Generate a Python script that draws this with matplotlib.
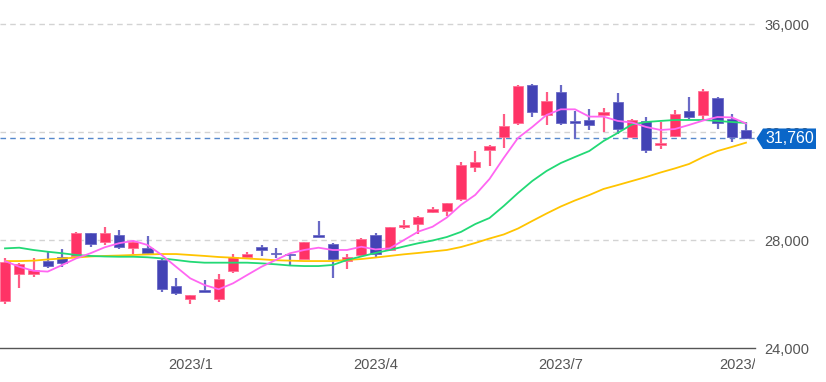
import matplotlib
matplotlib.use("Agg")
import matplotlib.pyplot as plt
import numpy as np
import pandas as pd
from matplotlib.patches import Polygon
from matplotlib.transforms import Bbox, TransformedBbox

plt.rcParams['font.family'] = ['Liberation Sans', 'DejaVu Sans']

# ---- data (weekly candles, Nikkei-style) ----
week_start = "2022-10-03"
n_weeks = 53

opens = [25740, 26730, 26740, 27220, 27370, 27410, 28250, 27940, 28200, 27715,
         27715, 27270, 26285, 25815, 26160, 25815, 26840, 27360, 27750, 27530,
         27495, 27285, 28175, 27865, 27235, 27445, 28175, 27630, 28480, 28590,
         29025, 29060, 29510, 30690, 31333, 31826, 32333, 33752, 32620, 33480,
         32382, 32434, 32620, 33100, 31804, 32407, 31507, 31852, 32767, 32620,
         33270, 32493, 32063]
highs = [27330, 27160, 27320, 27570, 27655, 28300, 28260, 28470, 28370, 27960,
         28160, 27320, 26580, 25980, 26520, 26730, 27470, 27570, 27815, 27690,
         27495, 27925, 28700, 27900, 27480, 28085, 28250, 28480, 28740, 28890,
         29235, 29370, 30880, 31310, 31520, 32667, 33752, 33775, 33480, 33730,
         32767, 32852, 32890, 33445, 32495, 32556, 32370, 32804, 33300, 33604,
         33300, 32678, 32370]
lows = [25630, 26220, 26620, 26950, 27010, 27410, 27730, 27815, 27655, 27470,
        27480, 26085, 25945, 25630, 26075, 25715, 26770, 27300, 27410, 27320,
        27040, 27285, 28100, 26605, 26915, 27380, 27380, 27605, 28405, 28220,
        29000, 28890, 29455, 30530, 30750, 31396, 32270, 32545, 32270, 32270,
        31752, 32085, 32000, 31926, 31780, 31233, 31382, 31815, 32470, 32396,
        32123, 31630, 31740]
closes = [27190, 27100, 26890, 27050, 27160, 28250, 27850, 28270, 27750, 27915,
          27505, 26185, 26050, 25965, 26085, 26545, 27360, 27495, 27630, 27470,
          27430, 27915, 28100, 27285, 27360, 28025, 27480, 28480, 28565, 28850,
          29150, 29370, 30780, 30900, 31493, 32233, 33693, 32730, 33160, 32333,
          32350, 32270, 32730, 32123, 32456, 31322, 31604, 32678, 32567, 33508,
          32333, 31797, 31760]

ma_short = [27220, 27010, 26860, 26830, 27070, 27320, 27510, 27730, 27880, 27970,
            27815, 27445, 27010, 26580, 26333, 26175, 26395, 26705, 27010, 27260,
            27510, 27630, 27715, 27630, 27630, 27750, 27650, 27690, 28000, 28310,
            28490, 28830, 29300, 29670, 30260, 31040, 31780, 32185, 32630, 32840,
            32840, 32570, 32570, 32410, 32350, 32185, 32075, 32110, 32260, 32425,
            32555, 32540, 32315]
ma_mid = [27690, 27715, 27630, 27565, 27510, 27445, 27410, 27390, 27380, 27380,
          27360, 27320, 27260, 27195, 27160, 27160, 27160, 27160, 27135, 27100,
          27055, 27035, 27035, 27075, 27260, 27390, 27520, 27630, 27760, 27880,
          27980, 28110, 28300, 28590, 28815, 29260, 29740, 30185, 30555, 30850,
          31075, 31295, 31665, 31965, 32280, 32370, 32410, 32445, 32445, 32445,
          32410, 32370, 32335]
ma_long = [27220, 27220, 27235, 27280, 27315, 27350, 27390, 27410, 27425, 27445,
           27465, 27480, 27480, 27445, 27410, 27370, 27345, 27315, 27285, 27250,
           27235, 27220, 27220, 27220, 27260, 27295, 27350, 27410, 27470, 27520,
           27575, 27630, 27740, 27890, 28055, 28205, 28425, 28705, 28980, 29240,
           29465, 29665, 29890, 30035, 30185, 30335, 30500, 30650, 30815, 31075,
           31295, 31445, 31605]

y_ticks = [24000, 28000, 32000, 36000]
grid_levels = [28000, 32000, 36000]
last_price = closes[-1]

# ---- figure ----
W, H = 826, 382
fig = plt.figure(figsize=(W / 100, H / 100), dpi=100)
ax_right_px = 755
ax = fig.add_axes([0, (H - 348) / H, ax_right_px / W, 348 / H])

x = np.arange(n_weeks)
dates = pd.date_range(week_start, periods=n_weeks, freq="W-MON")

up_col = "#ff3366"
dn_col = "#4343b5"
up_wick = "#ff5c85"
dn_wick = "#6a6ac6"

o = np.array(opens); c = np.array(closes); h = np.array(highs); l = np.array(lows)
up = c >= o
body_bottom = np.minimum(o, c)
body_h = np.maximum(np.abs(c - o), 55)

ax.vlines(x[up], l[up], h[up], color=up_wick, linewidth=1.6, zorder=2)
ax.vlines(x[~up], l[~up], h[~up], color=dn_wick, linewidth=1.6, zorder=2)
ax.bar(x[up], body_h[up], bottom=body_bottom[up], width=0.72, color=up_col,
       edgecolor="#ff7095", linewidth=0.6, zorder=3)
ax.bar(x[~up], body_h[~up], bottom=body_bottom[~up], width=0.72, color=dn_col,
       edgecolor="#6a6ac6", linewidth=0.6, zorder=3)

ax.plot(x, ma_long, color="#ffc400", linewidth=1.3, zorder=4)
ax.plot(x, ma_mid, color="#22d975", linewidth=1.3, zorder=4)
ax.plot(x, ma_short, color="#ff66f2", linewidth=1.3, zorder=4)

for g in grid_levels:
    ax.axhline(g, color="#d3d3d3", linewidth=1.0, dashes=(4, 3), zorder=1)
ax.axhline(last_price, color="#5588cc", linewidth=1.0, dashes=(4, 3), zorder=1)

ax.set_xlim(-5 / 14.25, (ax_right_px - 5) / 14.25)
ax.set_ylim(24000, 24000 + 348 * 4000 / 108)

for s in ["top", "left", "right"]:
    ax.spines[s].set_visible(False)
ax.spines["bottom"].set_color("#555555")
ax.spines["bottom"].set_linewidth(1.0)

ax.yaxis.tick_right()
ax.set_yticks(y_ticks)
ax.set_yticklabels([f"{v:,}" for v in y_ticks])
ax.tick_params(axis="y", length=0, pad=7, labelsize=10.5, labelcolor="#555555")
ax.set_xticks([])

# x labels at first week of each quarter, clipped at plot's right edge
clip = TransformedBbox(Bbox([[0, -1], [1, 2]]), ax.transAxes)
for i in range(1, n_weeks):
    d = dates[i]
    if d.month in (1, 4, 7, 10) and dates[i - 1].month != d.month:
        t = ax.text(i, -0.028, f"{d.year}/{d.month}", transform=ax.get_xaxis_transform(),
                    ha="center", va="top", fontsize=10.5, color="#555555", clip_on=True)
        t.set_clip_box(clip)

# price tag
def px(xp, yp):
    return (xp / W, 1 - yp / H)

yc = 348 - (last_price - 24000) * 108 / 4000
tag = Polygon([px(756.5, yc), px(763, yc - 10), px(816, yc - 10), px(816, yc + 10.5),
               px(763, yc + 10.5)], closed=True, transform=fig.transFigure,
              facecolor="#0a66c8", edgecolor="none", zorder=10)
fig.add_artist(tag)
fig.text(789.5 / W, 1 - (yc + 0.5) / H, f"{last_price:,}", color="white", fontsize=11.5,
         ha="center", va="center", zorder=11)

fig.savefig("out.png", dpi=100)
